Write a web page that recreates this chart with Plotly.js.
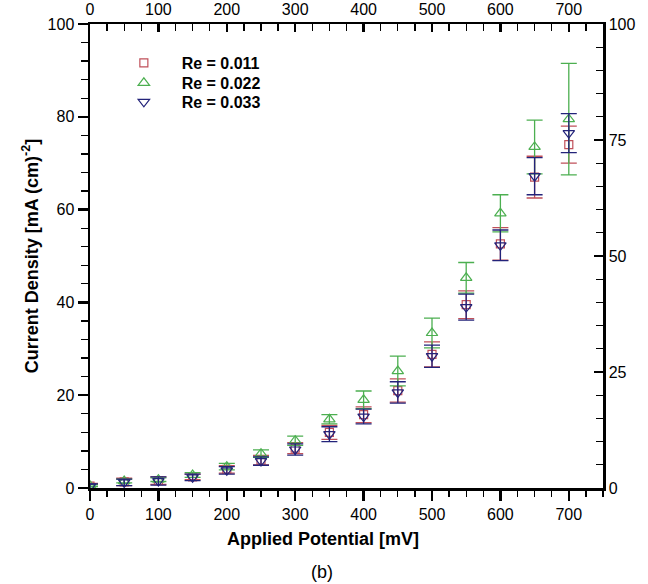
<!DOCTYPE html>
<html>
<head>
<meta charset="utf-8">
<script src="https://cdn.plot.ly/plotly-3.0.1.min.js"></script>
<style>html,body{margin:0;padding:0;background:#fff;}#chart{width:648px;height:584px;}</style>
</head>
<body>
<div id="chart"></div>
<script>
// Applied potential [mV]
const potential = [0, 50, 100, 150, 200, 250, 300, 350, 400, 450, 500, 550, 600, 650, 700];

// Current density [mA (cm)^-2]
const re011 = [0.4, 1.3, 1.6, 2.4, 4.0, 6.0, 8.6, 12.0, 15.8, 21.0, 28.8, 39.5, 52.6, 67.0, 74.0];
const re011Err = [0.6, 0.8, 0.8, 0.6, 0.8, 1.0, 1.2, 1.5, 1.7, 2.5, 2.7, 3.0, 3.5, 4.5, 4.0];

const re022 = [0.5, 1.5, 1.8, 2.8, 4.6, 7.4, 10.2, 14.8, 19.0, 25.2, 33.4, 45.3, 59.2, 73.5, 79.5];
const re022Err = [0.2, 0.4, 0.4, 0.5, 0.7, 0.8, 1.0, 1.0, 1.9, 3.2, 3.2, 3.3, 4.0, 5.8, 12.0];

const re033 = [0.3, 1.2, 1.5, 2.3, 3.8, 5.8, 8.3, 11.6, 15.4, 20.6, 28.4, 39.0, 52.3, 67.2, 76.5];
const re033Err = [0.6, 0.7, 0.9, 0.7, 0.8, 0.9, 1.2, 1.6, 1.6, 2.3, 2.4, 2.8, 3.3, 4.0, 4.2];

const seriesNames = ['Re = 0.011', 'Re = 0.022', 'Re = 0.033'];

const xTicks = [0, 100, 200, 300, 400, 500, 600, 700];
const yLeftTicks = [0, 20, 40, 60, 80, 100];
const yRightTicks = [0, 25, 50, 75, 100];

const FONT = 'Arial, "Liberation Sans", sans-serif';
const RED = '#c0505a', GREEN = '#4caf50', BLUE = '#23237a';
const LEGEND_PAD = '&nbsp;&nbsp;&nbsp;&nbsp;';

function series(y, err, name, symbol, color, size, legendId) {
  return {
    x: potential, y: y, name: LEGEND_PAD + name, type: 'scatter', mode: 'markers', legend: legendId,
    marker: {symbol: symbol, size: size, color: color, line: {width: 1.2}},
    error_y: {type: 'data', array: err, visible: true, color: color, thickness: 1.3, width: 8}
  };
}

const traces = [
  series(re011, re011Err, seriesNames[0], 'square-open', RED, 8, 'legend'),
  series(re022, re022Err, seriesNames[1], 'triangle-up-open', GREEN, 10, 'legend2'),
  series(re033, re033Err, seriesNames[2], 'triangle-down-open', BLUE, 10, 'legend3'),
  // empty traces so the mirrored top and right axes are drawn
  {x: [], y: [], xaxis: 'x2', yaxis: 'y', type: 'scatter', mode: 'markers', showlegend: false, hoverinfo: 'skip'},
  {x: [], y: [], xaxis: 'x', yaxis: 'y2', type: 'scatter', mode: 'markers', showlegend: false, hoverinfo: 'skip'}
];

const axisCommon = {
  showline: true, linecolor: '#000', linewidth: 2.5, showgrid: false, zeroline: false,
  tickcolor: '#000', tickwidth: 2.5, tickfont: {family: FONT, size: 16, color: '#000'}
};

function legendAt(y) {
  return {x: 0.066, y: y, xanchor: 'left', yanchor: 'middle', bgcolor: 'rgba(0,0,0,0)',
          font: {family: FONT, size: 16, color: '#000', weight: 'bold'}};
}

const layout = {
  width: 648, height: 584,
  margin: {l: 90, r: 45, t: 24, b: 96},
  paper_bgcolor: '#fff', plot_bgcolor: '#fff',
  font: {family: FONT, color: '#000'},
  showlegend: true,
  legend: legendAt(0.916),
  legend2: legendAt(0.873),
  legend3: legendAt(0.832),
  xaxis: Object.assign({}, axisCommon, {
    range: [0, 750], tickvals: xTicks, ticktext: xTicks.map(String), ticks: 'outside', ticklen: 10,
    minor: {dtick: 25, tick0: 0, ticks: 'outside', ticklen: 6, tickwidth: 1.3, tickcolor: '#000', showgrid: false}
  }),
  xaxis2: Object.assign({}, axisCommon, {
    range: [0, 750], overlaying: 'x', side: 'top', anchor: 'y',
    tickvals: xTicks, ticktext: xTicks.map(String), ticks: 'inside', ticklen: 8,
    minor: {dtick: 25, tick0: 0, ticks: 'inside', ticklen: 7, tickwidth: 1.3, tickcolor: '#000', showgrid: false}
  }),
  yaxis: Object.assign({}, axisCommon, {
    range: [0, 100], tickvals: yLeftTicks, ticktext: yLeftTicks.map(String), ticks: 'outside', ticklen: 10,
    minor: {dtick: 4, tick0: 0, ticks: 'outside', ticklen: 7, tickwidth: 1.3, tickcolor: '#000', showgrid: false},
    title: {text: 'Current Density [mA (cm)<sup>-2</sup>]', font: {family: FONT, size: 18, weight: 'bold'}, standoff: 5}
  }),
  yaxis2: Object.assign({}, axisCommon, {
    range: [0, 100], overlaying: 'y', side: 'right', anchor: 'x',
    tickvals: yRightTicks, ticktext: yRightTicks.map(String), ticks: 'inside', ticklen: 9,
    minor: {dtick: 5, tick0: 0, ticks: 'inside', ticklen: 7, tickwidth: 1.3, tickcolor: '#000', showgrid: false}
  }),
  annotations: [
    {text: '<b>Applied Potential [mV]</b>', xref: 'paper', yref: 'paper', x: 0.455, y: -0.085,
     xanchor: 'center', yanchor: 'top', showarrow: false, font: {family: FONT, size: 18, color: '#000'}},
    {text: '(b)', xref: 'paper', yref: 'paper', x: 0.452, y: -0.155,
     xanchor: 'center', yanchor: 'top', showarrow: false, font: {family: FONT, size: 18, color: '#000'}}
  ]
};

Plotly.newPlot('chart', traces, layout, {displayModeBar: false, staticPlot: true});
</script>
</body>
</html>
